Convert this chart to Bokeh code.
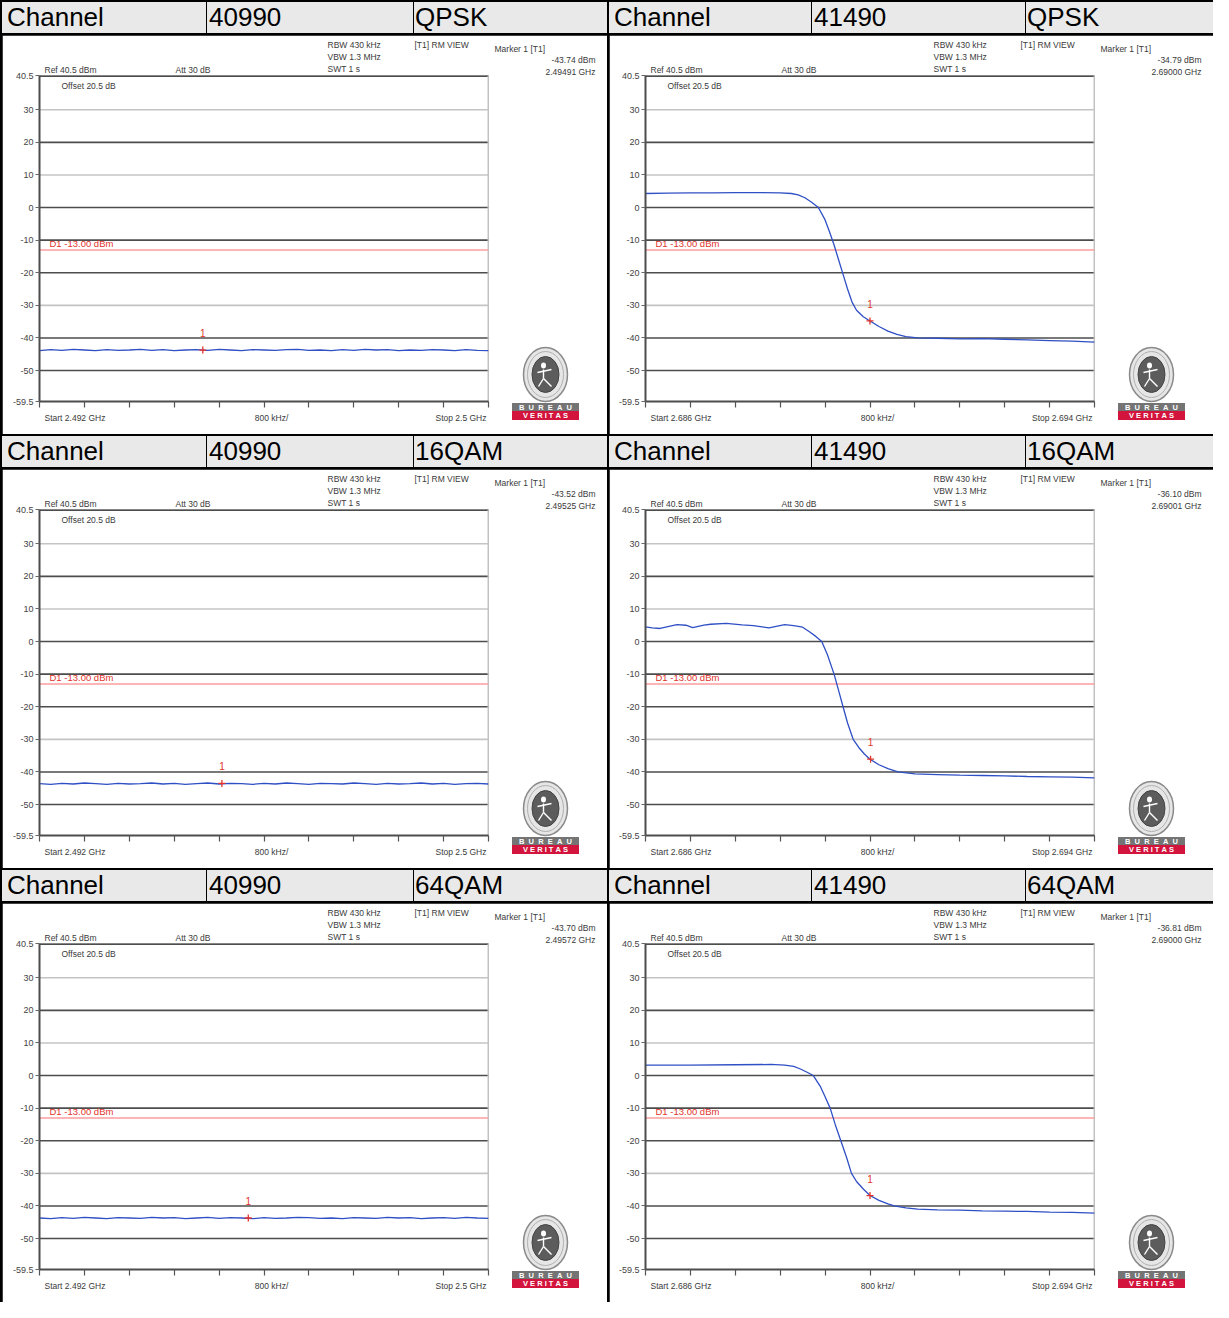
from bokeh.plotting import figure
from bokeh.models import (Range1d, Label, Span, FixedTicker, CustomJSTickFormatter, Div, Spacer,
                          GridBox)
from bokeh.layouts import row
from bokeh.core.properties import value
from bokeh.embed import file_html
from bokeh.resources import INLINE

# ---------------- data ----------------
HEADER_WORD = "Channel"
CHANNELS = ["40990", "41490"]
MODULATIONS = ["QPSK", "16QAM", "64QAM"]
SPAN_START = [2.492, 2.686]
SPAN_STOP = [2.500, 2.694]
START_LABELS = ["Start 2.492 GHz", "Start 2.686 GHz"]
STOP_LABELS = ["Stop 2.5 GHz", "Stop 2.694 GHz"]
DIV_LABEL = "800 kHz/"
DIV_STEP_GHZ = 0.0008
Y_TICKS = [40.5, 30, 20, 10, 0, -10, -20, -30, -40, -50, -59.5]
Y_TICK_LABELS = ["40.5", "30", "20", "10", "0", "-10", "-20", "-30", "-40", "-50", "-59.5"]
GRID_LEVELS = [30, 20, 10, 0, -10, -20, -30, -40, -50]
GRID_DARK = [False, True, False, True, True, True, False, True, True]
LIMIT_DBM = -13.0
LIMIT_LABEL = "D1 -13.00 dBm"
SETTINGS = ["RBW 430 kHz", "VBW 1.3 MHz", "SWT 1 s"]
VIEW_LABEL = "[T1] RM VIEW"
MARKER_TITLE = "Marker 1 [T1]"
REF_LABEL = "Ref 40.5 dBm"
ATT_LABEL = "Att 30 dB"
OFFSET_LABEL = "Offset 20.5 dB"
LOGO_TOP = "BUREAU"
LOGO_BOTTOM = "VERITAS"

# marker readouts [row][col]
MARKER_FREQ = [[2.49491, 2.69000], [2.49525, 2.69001], [2.49572, 2.69000]]
MARKER_DBM = [[-43.74, -34.79], [-43.52, -36.10], [-43.70, -36.81]]

# left column traces (channel 40990)
LEFT_FREQ = [2.4920, 2.4922, 2.4924, 2.4926, 2.4928, 2.4930, 2.4932, 2.4934, 2.4936, 2.4938,
             2.4940, 2.4942, 2.4944, 2.4946, 2.4948, 2.4950, 2.4952, 2.4954, 2.4956, 2.4958,
             2.4960, 2.4962, 2.4964, 2.4966, 2.4968, 2.4970, 2.4972, 2.4974, 2.4976, 2.4978,
             2.4980, 2.4982, 2.4984, 2.4986, 2.4988, 2.4990, 2.4992, 2.4994, 2.4996, 2.4998,
             2.5000]
LEFT_QPSK = [-43.9, -43.6, -43.8, -43.5, -43.7, -43.9, -43.6, -43.8, -43.7, -43.5,
             -43.8, -43.6, -43.9, -43.7, -43.6, -43.8, -43.5, -43.7, -43.9, -43.6,
             -43.7, -43.8, -43.6, -43.5, -43.8, -43.7, -43.9, -43.6, -43.8, -43.5,
             -43.7, -43.6, -43.9, -43.7, -43.8, -43.6, -43.7, -43.9, -43.6, -43.8,
             -43.9]
LEFT_16QAM = [-43.6, -43.8, -43.5, -43.7, -43.4, -43.6, -43.8, -43.5, -43.7, -43.6,
              -43.4, -43.7, -43.5, -43.8, -43.6, -43.4, -43.7, -43.5, -43.6, -43.8,
              -43.5, -43.7, -43.4, -43.6, -43.8, -43.5, -43.6, -43.7, -43.4, -43.6,
              -43.8, -43.5, -43.7, -43.6, -43.4, -43.7, -43.5, -43.8, -43.6, -43.5,
              -43.7]
LEFT_64QAM = [-43.7, -43.9, -43.6, -43.8, -43.5, -43.7, -43.9, -43.6, -43.7, -43.8,
              -43.5, -43.7, -43.6, -43.9, -43.7, -43.5, -43.8, -43.6, -43.7, -43.9,
              -43.6, -43.8, -43.7, -43.5, -43.6, -43.8, -43.7, -43.9, -43.6, -43.7,
              -43.8, -43.5, -43.7, -43.6, -43.9, -43.7, -43.6, -43.8, -43.5, -43.7,
              -43.8]

# right column traces (channel 41490)
RIGHT_QPSK_FREQ = [2.68600, 2.68640, 2.68680, 2.68720, 2.68760, 2.68800, 2.68840, 2.68860,
                   2.68872, 2.68884, 2.68896, 2.68908, 2.68920, 2.68928, 2.68936, 2.68944,
                   2.68952, 2.68960, 2.68968, 2.68976, 2.68988, 2.69000, 2.69016, 2.69032,
                   2.69048, 2.69064, 2.69085, 2.69120, 2.69160, 2.69200, 2.69240, 2.69280,
                   2.69320, 2.69360, 2.69400]
RIGHT_QPSK = [4.3, 4.4, 4.5, 4.5, 4.6, 4.6, 4.5, 4.3,
              3.9, 3.0, 1.6, 0.0, -3.8, -7.5, -11.5, -16.0,
              -20.5, -25.0, -29.0, -31.5, -33.5, -34.8, -36.5, -37.9,
              -38.9, -39.6, -40.0, -40.1, -40.3, -40.2, -40.4, -40.6,
              -40.8, -41.0, -41.3]
RIGHT_16QAM_FREQ = [2.68600, 2.68612, 2.68626, 2.68640, 2.68656, 2.68672, 2.68684, 2.68704,
                    2.68716, 2.68744, 2.68772, 2.68792, 2.68820, 2.68848, 2.68864, 2.68880,
                    2.68892, 2.68904, 2.68914, 2.68924, 2.68936, 2.68944, 2.68952, 2.68960,
                    2.68970, 2.68980, 2.68990, 2.69000, 2.69016, 2.69032, 2.69050, 2.69080,
                    2.69120, 2.69160, 2.69200, 2.69240, 2.69280, 2.69320, 2.69360, 2.69400]
RIGHT_16QAM = [4.5, 4.2, 4.0, 4.6, 5.2, 5.0, 4.3, 5.0,
               5.3, 5.6, 5.1, 4.9, 4.2, 5.2, 4.9, 4.4,
               3.0, 1.5, 0.0, -4.0, -10.0, -15.0, -20.0, -25.0,
               -30.0, -32.5, -34.5, -36.1, -37.8, -39.0, -40.0, -40.6,
               -40.8, -41.0, -41.1, -41.2, -41.4, -41.5, -41.6, -41.8]
RIGHT_64QAM_FREQ = [2.68600, 2.68680, 2.68760, 2.68824, 2.68848, 2.68864, 2.68876, 2.68888,
                    2.68899, 2.68912, 2.68920, 2.68929, 2.68938, 2.68948, 2.68958, 2.68967,
                    2.68976, 2.68988, 2.69000, 2.69016, 2.69032, 2.69043, 2.69064, 2.69085,
                    2.69120, 2.69160, 2.69200, 2.69240, 2.69280, 2.69320, 2.69360, 2.69400]
RIGHT_64QAM = [3.2, 3.2, 3.3, 3.4, 3.2, 2.8, 2.0, 1.0,
               0.0, -3.5, -6.5, -10.0, -15.0, -20.0, -25.0, -30.0,
               -32.5, -34.8, -36.8, -38.3, -39.4, -40.0, -40.6, -41.0,
               -41.2, -41.3, -41.5, -41.6, -41.7, -41.9, -42.0, -42.2]

TRACES = [
    [(LEFT_FREQ, LEFT_QPSK), (RIGHT_QPSK_FREQ, RIGHT_QPSK)],
    [(LEFT_FREQ, LEFT_16QAM), (RIGHT_16QAM_FREQ, RIGHT_16QAM)],
    [(LEFT_FREQ, LEFT_64QAM), (RIGHT_64QAM_FREQ, RIGHT_64QAM)],
]

# ---------------- styling / layout ----------------
FONT = "Liberation Sans"
COL_W = [605, 604]
BORDER_L = [37, 36]
BORDER_T = 40
FW, FH = 449, 326
PANEL_H = 399
HDR_H = 31
HDR_CELLS = [[204, 206, 193], [202, 213, 187]]
HDR_PAD = [[5, 2, 1], [5, 2, 1]]
DARK = "#4d4d4d"
LIGHT = "#c4c4c4"
TRACE = "#2f4fc4"
RED = "#e2342c"
TXT = "#3a3a3a"


def header_cell(text, w, pad):
    html = ('<div style="font-family:\'Liberation Sans\',Arial,sans-serif;font-size:26px;'
            'line-height:31px;padding-left:%dpx;color:#000;white-space:nowrap;">%s</div>' % (pad, text))
    return Div(text=html, width=w, height=HDR_H, margin=0,
               styles={"background-color": "#e9e9e9", "overflow": "hidden"})


def header_cells(c, mod):
    texts = [HEADER_WORD, CHANNELS[c], mod]
    cells = [header_cell(t, w, pd) for t, w, pd in zip(texts, HDR_CELLS[c], HDR_PAD[c])]
    return row(children=cells, spacing=1, margin=0)


def make_panel(r, c):
    start, stop = SPAN_START[c], SPAN_STOP[c]
    width = COL_W[c]
    bl = BORDER_L[c]
    p = figure(width=width, height=PANEL_H, x_range=Range1d(start, stop),
               y_range=Range1d(-59.5, 40.5), output_backend="svg", toolbar_location=None,
               tools="", min_border_left=bl, min_border_right=width - bl - FW,
               min_border_top=BORDER_T, min_border_bottom=PANEL_H - BORDER_T - FH,
               outline_line_color=None, background_fill_color="white",
               border_fill_color="white")
    p.grid.visible = False

    for lvl, dark in zip(GRID_LEVELS, GRID_DARK):
        p.add_layout(Span(location=lvl, dimension="width", line_color=DARK if dark else LIGHT,
                          line_width=1.6, level="underlay"))
    p.add_layout(Span(location=40.5, dimension="width", line_color=DARK, line_width=3, level="underlay"))
    p.add_layout(Span(location=stop, dimension="height", line_color=LIGHT, line_width=2, level="underlay"))
    p.add_layout(Span(location=LIMIT_DBM, dimension="width", line_color="#ff9d9d",
                      line_width=1.5, level="underlay"))

    ya = p.yaxis[0]
    ya.ticker = FixedTicker(ticks=Y_TICKS)
    ya.formatter = CustomJSTickFormatter(args=dict(tvals=Y_TICKS, tlabs=Y_TICK_LABELS), code="""
        for (let i = 0; i < tvals.length; i++) {
            if (Math.abs(tvals[i] - tick) < 1e-6) { return tlabs[i]; }
        }
        return '';
    """)
    ya.major_label_text_font = FONT
    ya.major_label_text_font_size = "9px"
    ya.major_label_text_color = "#444"
    ya.major_label_standoff = 2
    ya.major_tick_out = 4
    ya.major_tick_in = 0
    ya.minor_tick_out = 0
    ya.minor_tick_in = 0
    ya.major_tick_line_color = "#666"
    ya.axis_line_color = DARK
    ya.axis_line_width = 2

    xa = p.xaxis[0]
    xa.ticker = FixedTicker(ticks=[round(start + i * DIV_STEP_GHZ, 6) for i in range(11)])
    xa.formatter = CustomJSTickFormatter(code="return '';")
    xa.major_tick_out = 6
    xa.major_tick_in = 0
    xa.minor_tick_out = 0
    xa.minor_tick_in = 0
    xa.major_tick_line_color = "#555"
    xa.major_tick_line_width = 1.2
    xa.axis_line_color = DARK
    xa.axis_line_width = 2
    xa.major_label_text_font_size = "1px"

    fx, fy = TRACES[r][c]
    p.line(fx, fy, line_color=TRACE, line_width=1.3)

    mf, mdb = MARKER_FREQ[r][c], MARKER_DBM[r][c]
    p.scatter([mf], [mdb], marker="cross", size=7, line_color=RED, line_width=1.3)
    p.add_layout(Label(x=mf, y=mdb + 5.2, text="1", text_font=FONT, text_font_size="10px",
                       text_color=RED, text_align="center", text_baseline="middle"))
    p.add_layout(Label(x=start + 22 / FW * (stop - start), y=40.5 - 10 / FH * 100.0,
                       text=OFFSET_LABEL, text_font=FONT, text_font_size="8.5px",
                       text_color=TXT, text_align="left", text_baseline="middle"))
    p.add_layout(Label(x=start + 10 / FW * (stop - start), y=LIMIT_DBM + 0.3, text=LIMIT_LABEL,
                       text_font=FONT, text_font_size="9.5px", text_color=RED,
                       text_align="left", text_baseline="bottom"))
    return p


def make_overlay(r, c):
    width = COL_W[c]
    bl = BORDER_L[c]
    o = figure(width=width, height=PANEL_H, x_range=Range1d(0, width), y_range=Range1d(PANEL_H, 0),
               output_backend="svg", toolbar_location=None, tools="", min_border=0,
               min_border_left=0, min_border_right=0, min_border_top=0, min_border_bottom=0,
               x_axis_type=None, y_axis_type=None, outline_line_color=None,
               background_fill_color=None, border_fill_color=None)
    mf, mdb = MARKER_FREQ[r][c], MARKER_DBM[r][c]

    def txt(px, py, text, align="left", size="8.5px", color=TXT, style="normal"):
        o.text(x=[bl + px], y=[BORDER_T + py], text=[text], text_font=value(FONT),
               text_font_size=value(size), text_color=color, text_align=align,
               text_baseline="middle", text_font_style=style)

    txt(288, -31, SETTINGS[0])
    txt(288, -19, SETTINGS[1])
    txt(288, -7, SETTINGS[2])
    txt(375, -31, VIEW_LABEL)
    txt(455, -27, MARKER_TITLE)
    txt(556, -16, "%.2f dBm" % mdb, align="right")
    txt(556, -4, "%.5f GHz" % mf, align="right")
    txt(5, -6, REF_LABEL)
    txt(136, -6, ATT_LABEL)
    txt(5, FH + 16, START_LABELS[c])
    txt(232, FH + 16, DIV_LABEL, align="center")
    txt(FW - 2, FH + 16, STOP_LABELS[c], align="right")

    # logo
    cx = bl + FW + 57
    cy = BORDER_T + FH - 27
    o.ellipse(x=[cx], y=[cy], width=[44], height=[54], fill_color="#e6e6e6",
              line_color="#8a8a8a", line_width=1.5)
    o.ellipse(x=[cx], y=[cy], width=[36], height=[46], fill_color=None,
              line_color="#b0b0b0", line_width=1)
    o.ellipse(x=[cx], y=[cy], width=[27], height=[36], fill_color="#5c5c5c",
              line_color="#444444", line_width=1)
    o.ellipse(x=[cx - 2], y=[cy - 9], width=[5], height=[6], fill_color="white",
              line_color=None)
    o.segment(x0=[cx - 2, cx - 2, cx - 8, cx - 2], y0=[cy - 5, cy + 4, cy - 2, cy + 4],
              x1=[cx - 2, cx + 6, cx + 6, cx - 7], y1=[cy + 4, cy + 12, cy - 5, cy + 12],
              line_color="white", line_width=1.4)
    o.rect(x=[cx], y=[BORDER_T + FH + 5.5], width=[67], height=[8], fill_color="#747474",
           line_color=None)
    o.rect(x=[cx], y=[BORDER_T + FH + 14], width=[67], height=[9], fill_color="#d3143c",
           line_color=None)
    o.text(x=[cx], y=[BORDER_T + FH + 5.9], text=["\u00a0\u00a0".join(LOGO_TOP)],
           text_font=value(FONT), text_font_size=value("7.5px"), text_color="white",
           text_align="center", text_baseline="middle", text_font_style="bold")
    o.text(x=[cx], y=[BORDER_T + FH + 14.4], text=["\u00a0".join(LOGO_BOTTOM)],
           text_font=value(FONT), text_font_size=value("7.5px"), text_color="white",
           text_align="center", text_baseline="middle", text_font_style="bold")
    return o


children = [(Spacer(width=0, height=0, margin=0), 0, 0)]
for r in range(3):
    hr = 1 + 2 * r
    pr = 2 + 2 * r
    for c in range(2):
        children.append((header_cells(c, MODULATIONS[r]), hr, 1 + c))
        children.append((row(children=[make_panel(r, c)], margin=0), pr, 1 + c))
        children.append((row(children=[make_overlay(r, c)], margin=0), pr, 1 + c))

layout = GridBox(children=children, spacing=2, margin=0, styles={"background-color": "black"})

open("out.html", "w").write(file_html(layout, INLINE))
